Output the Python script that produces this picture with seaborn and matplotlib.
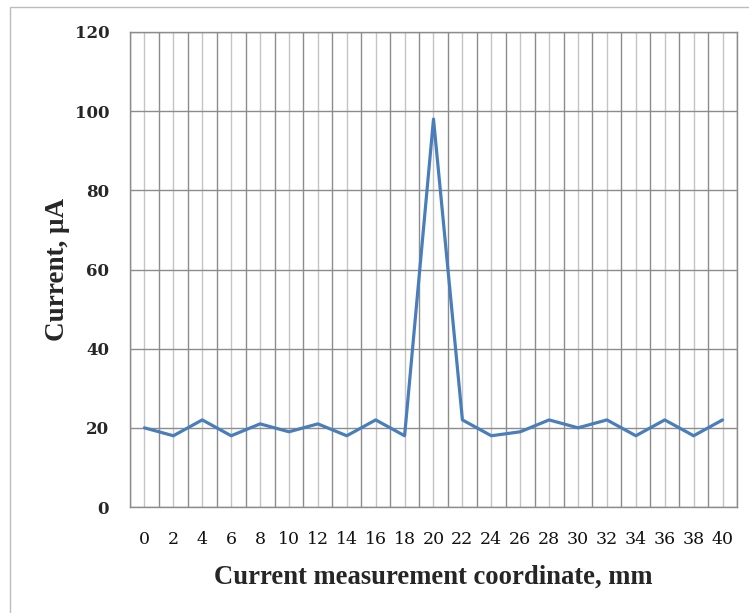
import matplotlib
matplotlib.use("Agg")
import matplotlib.pyplot as plt
import seaborn as sns
import pandas as pd
from matplotlib.patches import Rectangle

coordinates = [0, 2, 4, 6, 8, 10, 12, 14, 16, 18, 20, 22, 24, 26, 28, 30, 32, 34, 36, 38, 40]
current = [20, 18, 22, 18, 21, 19, 21, 18, 22, 18, 98, 22, 18, 19, 22, 20, 22, 18, 22, 18, 22]
y_ticks = [0, 20, 40, 60, 80, 100, 120]

df = pd.DataFrame({"coord": coordinates, "current": current})

sns.set_style("white")
plt.rcParams['font.family'] = ['Liberation Serif', 'DejaVu Serif']

W, H = 749, 613
fig = plt.figure(figsize=(W / 100, H / 100), dpi=100)
ax = fig.add_axes([130 / W, 1 - 507 / H, (737 - 130) / W, (507 - 32) / H])

# outer chart frame
fig.patches.append(Rectangle((10 / W, -0.05), 1.2, 1 - 7 / H + 0.05, transform=fig.transFigure,
                             fill=False, edgecolor="#bcbcbc", linewidth=1.0, zorder=0))

sns.lineplot(data=df, x="coord", y="current", ax=ax, color="#4a7ebb", linewidth=2.3, zorder=5)

ax.set_xlim(-1, 41)
ax.set_ylim(0, 120)
ax.set_xticks(coordinates)
ax.set_xticklabels([str(c) for c in coordinates], family=["DejaVu Serif"], fontsize=12.5,
                   fontweight="medium", color="#111111")
ax.set_xticks([c - 1 for c in coordinates] + [41], minor=True)
ax.set_yticks(y_ticks)
ax.set_yticklabels([str(v) for v in y_ticks], family=["DejaVu Serif"], fontweight="bold", fontsize=12)

# grid: light at category centres, dark at boundaries and horizontal
ax.grid(which="major", axis="x", color="#c4c4c4", linewidth=1.0)
ax.grid(which="minor", axis="x", color="#8c8c8c", linewidth=1.0)
ax.grid(which="major", axis="y", color="#8c8c8c", linewidth=1.0)
ax.set_axisbelow(True)

for s in ax.spines.values():
    s.set_color("#8c8c8c")
    s.set_linewidth(1.0)

ax.tick_params(axis="x", which="both", length=0, pad=17)
ax.tick_params(axis="y", which="both", length=0, pad=15)

ax.set_xlabel("Current measurement coordinate, mm", fontsize=19.2, fontweight="bold", labelpad=12)
ax.set_ylabel("Current, μA", fontsize=19.5, fontweight="bold", labelpad=3)

fig.savefig("out.png", dpi=100)
